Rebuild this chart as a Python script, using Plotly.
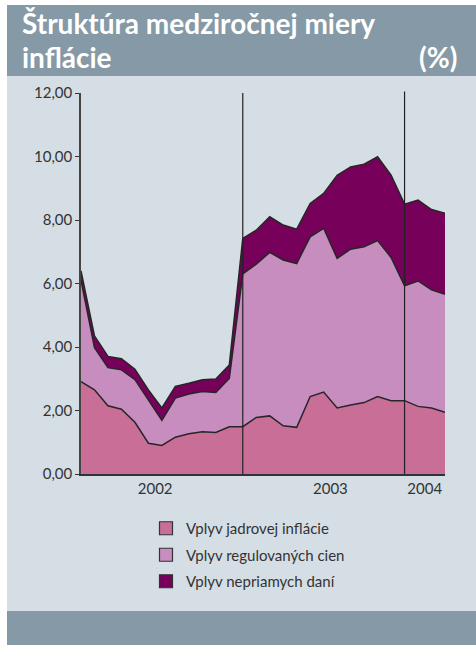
import plotly.graph_objects as go

months = [f"{m:02d}/2002" for m in range(1, 13)] + [f"{m:02d}/2003" for m in range(1, 13)] + [f"{m:02d}/2004" for m in range(1, 5)]

jadrova = [2.91, 2.65, 2.15, 2.04, 1.63, 0.97, 0.90, 1.16, 1.27, 1.33, 1.31, 1.49,
           1.49, 1.78, 1.83, 1.52, 1.47, 2.44, 2.58, 2.08, 2.17, 2.25, 2.44, 2.31,
           2.31, 2.13, 2.08, 1.94]
middle_top = [6.10, 3.98, 3.35, 3.28, 2.97, 2.34, 1.69, 2.39, 2.52, 2.60, 2.57, 3.01,
              6.30, 6.61, 6.98, 6.74, 6.63, 7.47, 7.74, 6.79, 7.08, 7.16, 7.35, 6.82,
              5.93, 6.08, 5.80, 5.66]
total_top = [6.40, 4.35, 3.70, 3.63, 3.30, 2.65, 2.08, 2.76, 2.86, 2.97, 2.99, 3.43,
             7.42, 7.68, 8.10, 7.84, 7.71, 8.52, 8.84, 9.41, 9.67, 9.76, 9.99, 9.41,
             8.50, 8.63, 8.33, 8.21]
regulovane = [round(m - j, 2) for m, j in zip(middle_top, jadrova)]
nepriame = [round(t - m, 2) for t, m in zip(total_top, middle_top)]

names = ["Vplyv jadrovej inflácie", "Vplyv regulovaných cien", "Vplyv nepriamych daní"]
colors = ["#C96E97", "#C88DBF", "#76005A"]
year_labels = ["2002", "2003", "2004"]
year_pos = [5.5, 18.5, 25.5]

x = list(range(len(months)))

fig = go.Figure()
for vals, name, col in zip([jadrova, regulovane, nepriame], names, colors):
    fig.add_trace(go.Scatter(
        x=x, y=vals, name=name, stackgroup="one", mode="lines",
        line=dict(color="#262626", width=1.5), fillcolor=col, showlegend=False,
        text=months, hovertemplate="%{text}: %{y:.2f}<extra></extra>",
    ))
# legend entries as square swatches
for i, (name, col) in enumerate(zip(names, colors)):
    fig.add_trace(go.Scatter(
        x=[None], y=[None], name=name, mode="markers", legendgroup=f"g{i}",
        marker=dict(symbol="square", size=13, color=col, line=dict(color="#333333", width=1.2)),
        hoverinfo="skip",
    ))

L, R, T, B = 81, 31, 93, 171
W, H = 476, 645
pw, ph = W - L - R, H - T - B

def px(v):
    return (v - L) / pw

def py(v):
    return (H - B - v) / ph

shapes = [
    dict(type="rect", xref="paper", yref="paper", x0=px(0), x1=px(7), y0=py(H), y1=py(0),
         fillcolor="white", line_width=0, layer="below"),
    dict(type="rect", xref="paper", yref="paper", x0=px(0), x1=px(W), y0=py(5), y1=py(0),
         fillcolor="white", line_width=0, layer="below"),
    dict(type="rect", xref="paper", yref="paper", x0=px(7), x1=px(W), y0=py(76), y1=py(5),
         fillcolor="#8599A6", line_width=0, layer="below"),
    dict(type="rect", xref="paper", yref="paper", x0=px(7), x1=px(W), y0=py(H), y1=py(611),
         fillcolor="#8599A6", line_width=0, layer="below"),
    dict(type="line", xref="x", yref="paper", x0=12, x1=12, y0=0, y1=1,
         line=dict(color="#222222", width=1.2)),
    dict(type="line", xref="x", yref="paper", x0=24, x1=24, y0=0, y1=1.004,
         line=dict(color="#222222", width=1.2)),
]

title_font = dict(family="Lato", size=28, color="white")
annotations = [
    dict(text="<b>Štruktúra medziročnej miery</b>", xref="paper", yref="paper",
         x=px(20), y=py(23), xanchor="left", yanchor="middle", showarrow=False, font=title_font),
    dict(text="<b>inflácie</b>", xref="paper", yref="paper",
         x=px(20), y=py(57), xanchor="left", yanchor="middle", showarrow=False, font=title_font),
    dict(text="<b>(%)</b>", xref="paper", yref="paper",
         x=px(459), y=py(57), xanchor="right", yanchor="middle", showarrow=False, font=title_font),
]

fig.update_layout(
    width=W, height=H,
    margin=dict(l=L, r=R, t=T, b=B, pad=0),
    paper_bgcolor="#D5DEE5", plot_bgcolor="#D5DEE5",
    separators=", ",
    font=dict(family="Lato", size=15, color="#333333"),
    showlegend=True,
    legend=dict(x=px(146), y=py(512), xanchor="left", yanchor="top",
                bgcolor="rgba(0,0,0,0)", font=dict(family="Lato", size=15, color="#333333"),
                traceorder="grouped", tracegroupgap=4, itemsizing="trace"),
    shapes=shapes, annotations=annotations,
    hovermode="closest",
)
fig.update_xaxes(range=[0, 27], tickvals=year_pos, ticktext=year_labels, ticks="",
                 showgrid=False, zeroline=False, showline=True, linecolor="#333333",
                 linewidth=1.5, tickfont=dict(size=15, color="#333333"), fixedrange=True)
fig.update_yaxes(range=[0, 12], tickvals=[0, 2, 4, 6, 8, 10, 12], tickformat=".2f",
                 ticks="outside", ticklen=4, tickcolor="#333333", showgrid=False,
                 zeroline=False, showline=True, linecolor="#444444", linewidth=1.5,
                 tickfont=dict(size=15, color="#333333"), fixedrange=True)

fig.write_html("out.html", config={"displayModeBar": False},
               post_script="document.body.style.margin='0';document.body.style.overflow='hidden';")
